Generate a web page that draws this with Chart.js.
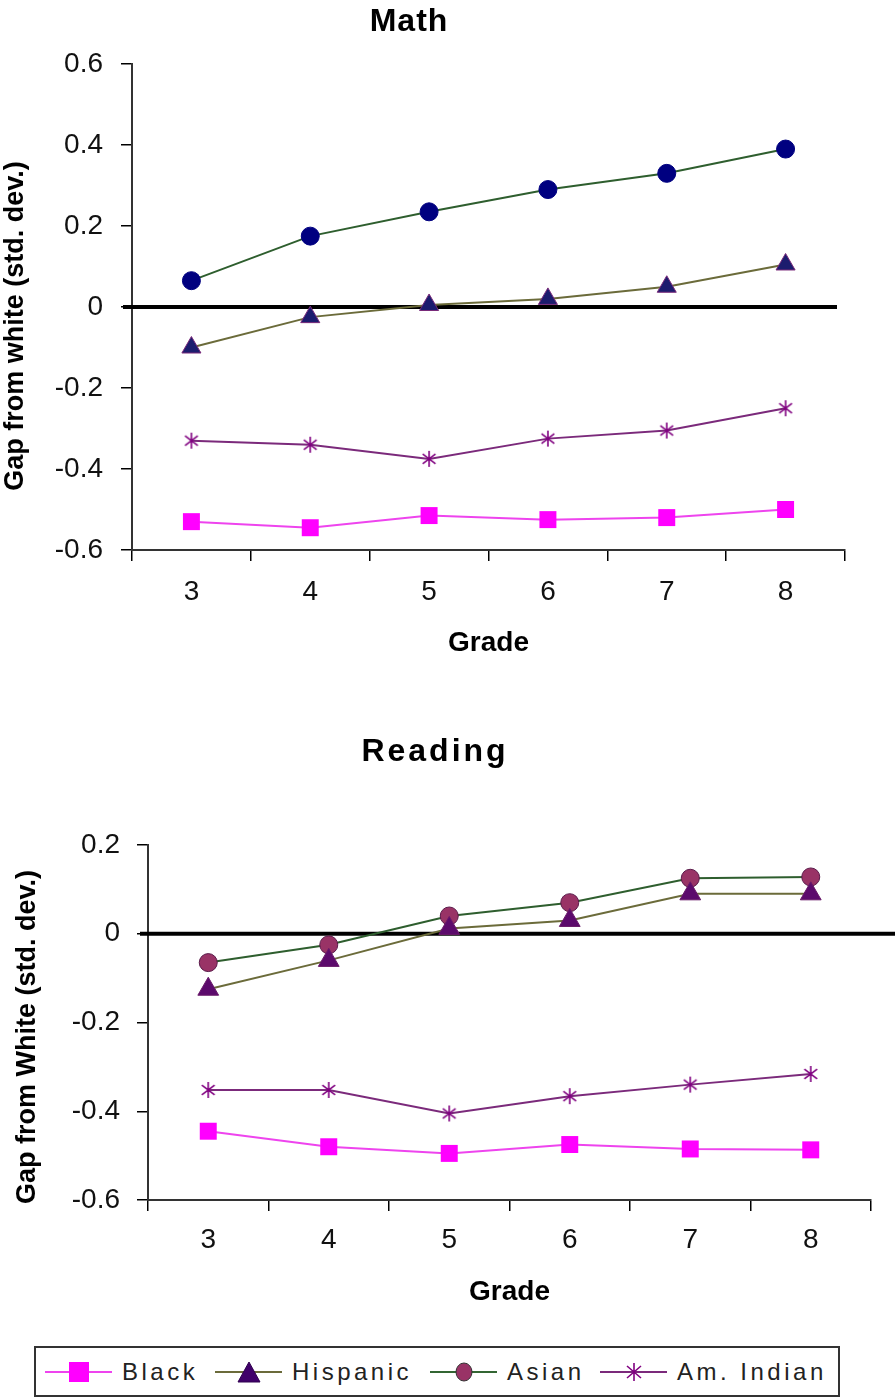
<!DOCTYPE html>
<html lang="en">
<head>
<meta charset="UTF-8">
<title>Gap from white by grade</title>
<script src="https://cdn.jsdelivr.net/npm/chart.js"></script>
<style>
  body { margin: 0; background: #fff; font-family: "Liberation Sans", Arial, sans-serif; }
  .page { position: relative; width: 895px; height: 1399px; overflow: hidden; }
  #mathChart { position: absolute; left: 0; top: 0; }
  #readingChart { position: absolute; left: 0; top: 690px; }
  .legend { position: absolute; left: 34px; top: 1346px; width: 806px; height: 51px;
            border: 2px solid #333; box-sizing: border-box; }
  .item { position: absolute; top: 12px; height: 24px; display: flex; align-items: center; }
  .item span { margin-left: 10px; font-size: 24px; letter-spacing: 3.5px; color: #222; line-height: 24px; }
</style>
</head>
<body>
<div class="page">
  <canvas id="mathChart" width="895" height="690"></canvas>
  <canvas id="readingChart" width="895" height="650"></canvas>
  <div class="legend">
    <div class="item" style="left:9px">
      <svg width="67" height="24"><line x1="0" y1="12" x2="67" y2="12" stroke="#ee44ee" stroke-width="2"/>
        <rect x="24" y="2" width="20" height="20" fill="#ff00ff"/></svg>
      <span>Black</span>
    </div>
    <div class="item" style="left:179px">
      <svg width="67" height="24"><line x1="0" y1="12" x2="67" y2="12" stroke="#6b6b3a" stroke-width="2"/>
        <polygon points="34,2 45,22 23,22" fill="#40006a" stroke="#300050"/></svg>
      <span>Hispanic</span>
    </div>
    <div class="item" style="left:394px">
      <svg width="67" height="24"><line x1="0" y1="12" x2="67" y2="12" stroke="#336633" stroke-width="2"/>
        <ellipse cx="34" cy="12" rx="8" ry="9" fill="#993366" stroke="#333"/></svg>
      <span>Asian</span>
    </div>
    <div class="item" style="left:564px">
      <svg width="67" height="24"><line x1="0" y1="12" x2="67" y2="12" stroke="#7b2a7b" stroke-width="2"/>
        <path d="M34 3 V21 M27 6 L41 18 M41 6 L27 18" stroke="#800080" stroke-width="1.6"/></svg>
      <span>Am. Indian</span>
    </div>
  </div>
</div>

<script>
const grades = ['3', '4', '5', '6', '7', '8'];

// Math gaps from white (std. dev.)
const mathBlack    = [-0.53, -0.545, -0.515, -0.525, -0.52, -0.50];
const mathHispanic = [-0.10, -0.025, 0.005, 0.02, 0.05, 0.105];
const mathAsian    = [0.065, 0.175, 0.235, 0.29, 0.33, 0.39];
const mathAmIndian = [-0.33, -0.34, -0.375, -0.325, -0.305, -0.25];

// Reading gaps from white (std. dev.)
const readBlack    = [-0.445, -0.48, -0.495, -0.475, -0.485, -0.487];
const readHispanic = [-0.125, -0.06, 0.012, 0.03, 0.09, 0.09];
const readAsian    = [-0.065, -0.025, 0.04, 0.07, 0.125, 0.128];
const readAmIndian = [-0.352, -0.352, -0.405, -0.366, -0.34, -0.316];

const FONT = '"Liberation Sans", Arial, sans-serif';

// asterisk marker like the spreadsheet one
function asterisk(color, size) {
    const c = document.createElement('canvas');
    c.width = size; c.height = size;
    const g = c.getContext('2d');
    const m = size / 2, r = size / 2 - 1;
    g.strokeStyle = color;
    g.lineWidth = 1.6;
    g.beginPath();
    g.moveTo(m, m - r); g.lineTo(m, m + r);
    g.moveTo(m - r * 0.8, m - r * 0.6); g.lineTo(m + r * 0.8, m + r * 0.6);
    g.moveTo(m + r * 0.8, m - r * 0.6); g.lineTo(m - r * 0.8, m + r * 0.6);
    g.stroke();
    return c;
}

// panel title and the rotated y axis title, placed like the spreadsheet did
const panelTitle = {
    id: 'panelTitle',
    afterDraw(chart, args, opts) {
        const ctx = chart.ctx;
        ctx.save();
        ctx.fillStyle = '#000';
        ctx.textAlign = 'center';
        ctx.font = 'bold 32px ' + FONT;
        if ('letterSpacing' in ctx) ctx.letterSpacing = opts.spacing + 'px';
        ctx.textBaseline = 'alphabetic';
        ctx.fillText(opts.text, opts.x, opts.y);
        if ('letterSpacing' in ctx) ctx.letterSpacing = '0px';
        ctx.font = 'bold 27px ' + FONT;
        ctx.textBaseline = 'middle';
        ctx.translate(opts.yTitleX, opts.yTitleY);
        ctx.rotate(-Math.PI / 2);
        ctx.fillText(opts.yTitle, 0, 0);
        ctx.restore();
    }
};

const zeroLine = {
    id: 'zeroLine',
    beforeDatasetsDraw(chart, args, opts) {
        const ctx = chart.ctx;
        const y = chart.scales.y.getPixelForValue(0);
        ctx.save();
        ctx.strokeStyle = '#000';
        ctx.lineWidth = 4;
        ctx.beginPath();
        ctx.moveTo(opts.from, y);
        ctx.lineTo(opts.to, y);
        ctx.stroke();
        ctx.restore();
    }
};

function series(label, data, line, style) {
    return Object.assign({
        label: label,
        data: data,
        borderColor: line,
        borderWidth: 2,
        tension: 0,
        fill: false
    }, style);
}

function buildOptions(cfg) {
    return {
        responsive: false,
        animation: false,
        layout: { padding: { left: 0, right: cfg.right, top: cfg.top, bottom: 0 } },
        plugins: {
            legend: { display: false },
            tooltip: { enabled: false },
            panelTitle: cfg.title,
            zeroLine: cfg.zero
        },
        scales: {
            x: {
                offset: true,
                grid: { offset: true, drawOnChartArea: false, tickLength: 11, color: '#000', lineWidth: 1.5 },
                border: { color: '#333', width: 2 },
                ticks: { font: { family: FONT, size: 28 }, color: '#111', padding: cfg.xPad, maxRotation: 0 },
                title: { display: true, text: 'Grade', color: '#000',
                         font: { family: FONT, size: 28, weight: 'bold' },
                         padding: { top: 0, bottom: cfg.xTitlePad } },
                afterFit(scale) { scale.height = 140; }
            },
            y: {
                min: -0.6,
                max: cfg.yMax,
                grid: { drawOnChartArea: false, tickLength: 11, color: '#000', lineWidth: 1.5 },
                border: { color: '#333', width: 2 },
                ticks: {
                    stepSize: 0.2,
                    font: { family: FONT, size: 28 },
                    color: '#111',
                    padding: cfg.yPad,
                    callback: v => String(Math.round(v * 10) / 10)
                },
                afterFit(scale) { scale.width = cfg.yWidth; }
            }
        }
    };
}

const star = asterisk('#800080', 18);

new Chart(document.getElementById('mathChart'), {
    type: 'line',
    data: {
        labels: grades,
        datasets: [
            series('Black', mathBlack, '#ee44ee',
                { pointStyle: 'rect', pointRadius: 12, pointBackgroundColor: '#ff00ff', pointBorderColor: '#ff00ff', pointBorderWidth: 0 }),
            series('Hispanic', mathHispanic, '#6b6b3a',
                { pointStyle: 'triangle', pointRadius: 11, pointBackgroundColor: '#1c1c6e', pointBorderColor: '#7a2a7a', pointBorderWidth: 1 }),
            series('Asian', mathAsian, '#2e5e2e',
                { pointStyle: 'circle', pointRadius: 9, pointBackgroundColor: '#000080', pointBorderColor: '#000080', pointBorderWidth: 1 }),
            series('Am. Indian', mathAmIndian, '#7b2a7b',
                { pointStyle: star, pointRadius: 9 })
        ]
    },
    options: buildOptions({
        right: 50, top: 64, xPad: 14, xTitlePad: 30, yPad: 18, yWidth: 132, yMax: 0.6,
        title: { text: 'Math', x: 409, y: 31, spacing: 1,
                 yTitle: 'Gap from white (std. dev.)', yTitleX: 16, yTitleY: 326 },
        zero: { from: 123, to: 837 }
    }),
    plugins: [panelTitle, zeroLine]
});

new Chart(document.getElementById('readingChart'), {
    type: 'line',
    data: {
        labels: grades,
        datasets: [
            series('Black', readBlack, '#ee44ee',
                { pointStyle: 'rect', pointRadius: 12, pointBackgroundColor: '#ff00ff', pointBorderColor: '#ff00ff', pointBorderWidth: 0 }),
            series('Hispanic', readHispanic, '#6b6b3a',
                { pointStyle: 'triangle', pointRadius: 12, pointBackgroundColor: '#5c0a6c', pointBorderColor: '#6a1a6a', pointBorderWidth: 1 }),
            series('Asian', readAsian, '#2e5e2e',
                { pointStyle: 'circle', pointRadius: 9, pointBackgroundColor: '#993366', pointBorderColor: '#5a1a4a', pointBorderWidth: 1 }),
            series('Am. Indian', readAmIndian, '#7b2a7b',
                { pointStyle: star, pointRadius: 9 })
        ]
    },
    options: buildOptions({
        right: 24, top: 155, xPad: 12, xTitlePad: 31, yPad: 17, yWidth: 148, yMax: 0.2,
        title: { text: 'Reading', x: 435, y: 71, spacing: 3,
                 yTitle: 'Gap from White (std. dev.)', yTitleX: 28, yTitleY: 347 },
        zero: { from: 140, to: 895 }
    }),
    plugins: [panelTitle, zeroLine]
});
</script>
</body>
</html>
